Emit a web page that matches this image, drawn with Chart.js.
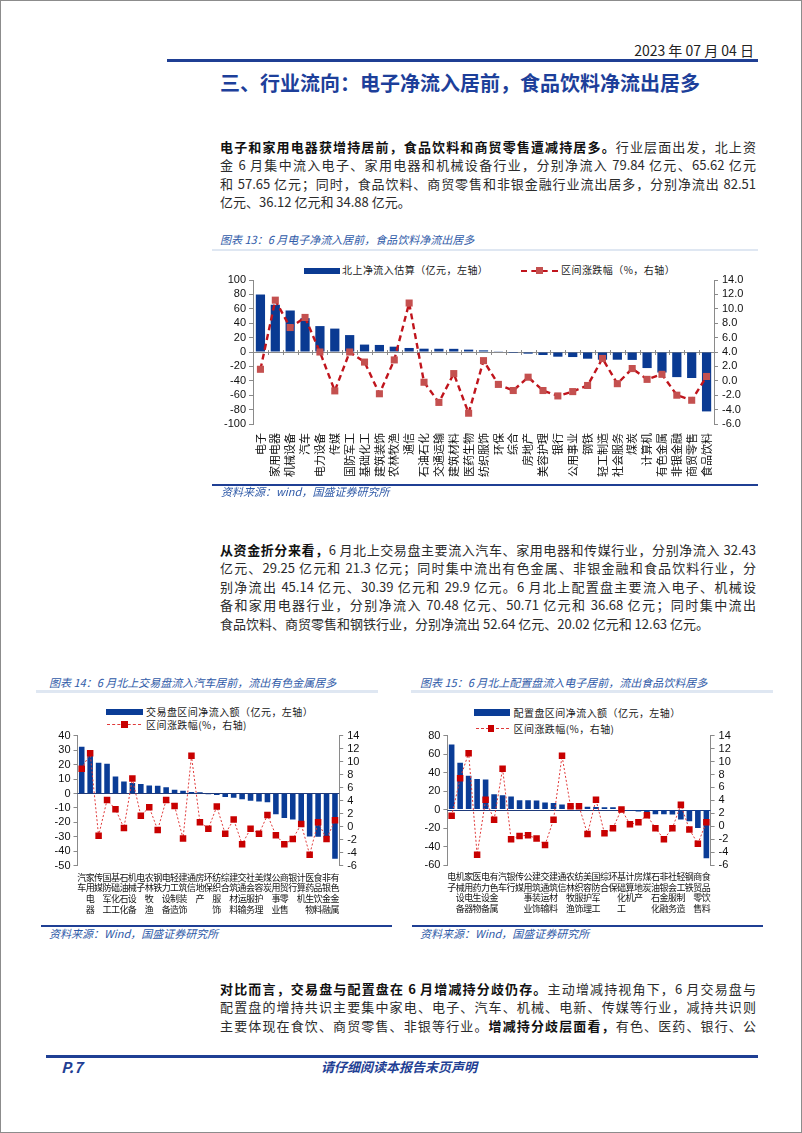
<!DOCTYPE html>
<html lang="zh-CN">
<head>
<meta charset="utf-8">
<script src="https://cdn.jsdelivr.net/npm/chart.js@4.4.0/dist/chart.umd.min.js"></script>
<style>
html, body { margin: 0; padding: 0; background: #fff; }
body { width: 802px; height: 1133px; position: relative; box-sizing: border-box; border: 1px solid #8c8c8c; overflow: hidden;
       font-family: "Noto Sans CJK SC", "Noto Sans", sans-serif; color: #2a2a2a; }
.abs { position: absolute; }
.para { position: absolute; left: 219px; width: 536px; font-size: 13px; line-height: 18.4px; color: #2b2b2b; }
.para div { text-align: justify; text-align-last: justify; }
.para div.last { text-align-last: left; }
.para b { color: #111; }
.rule { position: absolute; background: #1f3f94; }
.faint { position: absolute; background: #dfe7f2; }
.cap { position: absolute; font-size: 11px; line-height: 14px; font-style: italic; color: #2f5aa8; white-space: nowrap; }
.lg { position: absolute; font-size: 10px; line-height: 12px; color: #222; white-space: nowrap; letter-spacing: 0.45px; }
canvas { position: absolute; }
</style>
</head>
<body>

<div class="abs" style="right:47px;top:40px;font-size:14px;line-height:18px;color:#222;">2023 年 07 月 04 日</div>
<div class="rule" style="left:166px;top:58px;width:591px;height:2.5px;"></div>
<div class="abs" style="left:219px;top:69px;font-size:20px;line-height:25px;font-weight:700;color:#1d3f9a;">三、行业流向：电子净流入居前，食品饮料净流出居多</div>

<div class="para" style="top:137px;">
  <div><b>电子和家用电器获增持居前，食品饮料和商贸零售遭减持居多。</b>行业层面出发，北上资</div>
  <div>金 6 月集中流入电子、家用电器和机械设备行业，分别净流入 79.84 亿元、65.62 亿元</div>
  <div>和 57.65 亿元；同时，食品饮料、商贸零售和非银金融行业流出居多，分别净流出 82.51</div>
  <div class="last">亿元、36.12 亿元和 34.88 亿元。</div>
</div>

<div class="cap" style="left:219px;top:231px;">图表 13：6 月电子净流入居前，食品饮料净流出居多</div>
<div class="faint" style="left:211px;top:248px;width:546px;height:2px;"></div>

<div class="abs" style="left:303px;top:266.5px;width:35.5px;height:6px;background:#0a3a92;"></div>
<div class="lg" style="left:341px;top:263px;">北上净流入估算（亿元，左轴）</div>
<div class="abs" style="left:520px;top:268.5px;width:37px;border-top:2px dashed #c0141c;"></div>
<div class="abs" style="left:534.5px;top:265.5px;width:7px;height:7px;background:#c4504f;"></div>
<div class="lg" style="left:560px;top:263px;">区间涨跌幅（%，右轴）</div>
<canvas id="grafico_setor" width="542" height="228" style="left:215px;top:256px;"></canvas>

<div class="rule" style="left:211px;top:482.5px;width:546px;height:2px;"></div>
<div class="cap" style="left:220px;top:483px;">资料来源：wind，国盛证券研究所</div>

<div class="para" style="top:540px;">
  <div><b>从资金折分来看，</b>6 月北上交易盘主要流入汽车、家用电器和传媒行业，分别净流入 32.43</div>
  <div>亿元、29.25 亿元和 21.3 亿元；同时集中流出有色金属、非银金融和食品饮料行业，分</div>
  <div>别净流出 45.14 亿元、30.39 亿元和 29.9 亿元。6 月北上配置盘主要流入电子、机械设</div>
  <div>备和家用电器行业，分别净流入 70.48 亿元、50.71 亿元和 36.68 亿元；同时集中流出</div>
  <div class="last">食品饮料、商贸零售和钢铁行业，分别净流出 52.64 亿元、20.02 亿元和 12.63 亿元。</div>
</div>

<div class="cap" style="left:48px;top:674px;">图表 14：6 月北上交易盘流入汽车居前，流出有色金属居多</div>
<div class="cap" style="left:419px;top:674px;">图表 15：6 月北上配置盘流入电子居前，流出食品饮料居多</div>
<div class="faint" style="left:35px;top:689px;width:342px;height:2.5px;"></div>
<div class="faint" style="left:410px;top:689px;width:362px;height:2.5px;"></div>

<div class="abs" style="left:105px;top:707.5px;width:37px;height:6.5px;background:#0a3c96;"></div>
<div class="lg" style="left:145px;top:704.5px;">交易盘区间净流入额（亿元，左轴）</div>
<div class="abs" style="left:106px;top:723px;width:34px;border-top:1px dashed #e03a3a;"></div>
<div class="abs" style="left:120px;top:720.3px;width:6.5px;height:6.5px;background:#c80000;"></div>
<div class="lg" style="left:145px;top:717.5px;">区间涨跌幅(%，右轴)</div>
<canvas id="grafico_trade" width="375" height="222" style="left:20px;top:700px;"></canvas>

<div class="abs" style="left:473px;top:708px;width:36px;height:7px;background:#0a3c96;"></div>
<div class="lg" style="left:512.5px;top:705.5px;">配置盘区间净流入额（亿元，左轴）</div>
<div class="abs" style="left:475px;top:727px;width:33px;border-top:1px dashed #e03a3a;"></div>
<div class="abs" style="left:486.7px;top:724.3px;width:6.5px;height:6.5px;background:#c80000;"></div>
<div class="lg" style="left:512.5px;top:721.5px;">区间涨跌幅(%，右轴)</div>
<canvas id="grafico_alloc" width="360" height="222" style="left:412px;top:700px;"></canvas>

<div class="rule" style="left:40px;top:924px;width:351px;height:2px;"></div>
<div class="rule" style="left:411px;top:924px;width:351px;height:2px;"></div>
<div class="cap" style="left:48px;top:925px;">资料来源：Wind，国盛证券研究所</div>
<div class="cap" style="left:419px;top:925px;">资料来源：Wind，国盛证券研究所</div>

<div class="para" style="top:979px;">
  <div><b>对比而言，交易盘与配置盘在 6 月增减持分歧仍存。</b>主动增减持视角下，6 月交易盘与</div>
  <div>配置盘的增持共识主要集中家电、电子、汽车、机械、电新、传媒等行业，减持共识则</div>
  <div>主要体现在食饮、商贸零售、非银等行业。<b>增减持分歧层面看，</b>有色、医药、银行、公</div>
</div>

<div class="rule" style="left:45px;top:1054px;width:712px;height:3px;"></div>
<div class="abs" style="left:60px;top:1056px;font-size:15px;line-height:19px;font-weight:700;font-style:italic;color:#1f3f94;">P.7</div>
<div class="abs" style="left:320px;top:1057px;font-size:13px;line-height:18px;font-weight:700;font-style:italic;color:#1f3f94;">请仔细阅读本报告末页声明</div>

<script>
// 图表13 行业净流入（亿元）与区间涨跌幅（%）
const labelsSetor = ['电子', '家用电器', '机械设备', '汽车', '电力设备', '传媒', '国防军工', '基础化工', '建筑装饰', '农林牧渔',
    '通信', '石油石化', '交通运输', '建筑材料', '医药生物', '纺织服饰', '环保', '综合', '房地产', '美容护理',
    '银行', '公用事业', '钢铁', '轻工制造', '社会服务', '煤炭', '计算机', '有色金属', '非银金融', '商贸零售', '食品饮料'];
const fluxoSetor = [79.84, 65.62, 57.65, 47, 36, 32.5, 23.5, 10.3, 9.8, 7.4,
    5.6, 4.6, 4.5, 4.4, 3.3, 2.3, 1.0, -1.4, -2.3, -4.2,
    -6.5, -7.0, -9.3, -10.7, -10.7, -11, -22.3, -28.5, -34.88, -36.12, -82.51];
const varSetor = [1.6, 11.2, 7.4, 8.8, 4.0, -1.4, 4.0, 2.6, -1.8, 2.9,
    10.8, -0.2, -3.0, 1.0, -4.5, 2.8, -0.5, -1.35, 0.5, -1.35,
    -2.1, -1.5, -0.65, 3.1, -0.4, 1.7, 0.2, 0.9, -2.0, -2.7, 0.6];

// 图表14 交易盘
const labelsTrade = ['汽车', '家用电器', '传媒', '国防军工', '基础化工', '石油石化', '机械设备', '电子', '农林牧渔', '钢铁',
    '电力设备', '轻工制造', '建筑装饰', '通信', '房地产', '环保', '纺织服饰', '综合', '建筑材料', '交通运输',
    '社会服务', '美容护理', '煤炭', '公用事业', '商贸零售', '银行', '计算机', '医药生物', '食品饮料', '非银金融', '有色金属'];
const fluxoTrade = [32.43, 29.25, 21.3, 20.5, 11.8, 8.3, 7.3, 6.5, 5.5, 5.3,
    4.3, 2.5, 1.9, 1.0, 0.8, -0.6, -1.0, -2.5, -3.0, -4.0,
    -5.0, -5.5, -6.0, -14.3, -17, -18, -20.5, -29.7, -29.9, -30.39, -45.14];
const varTrade = [8.9, 11.3, -1.4, 4.1, 2.7, -0.2, 7.4, 1.7, 3.0, -0.5,
    4.1, 3.2, -1.8, 10.9, 0.7, -0.3, 3.1, -1.1, 1.1, -2.7,
    -0.3, -1.1, 1.8, -1.3, -2.7, -1.9, 0.4, -4.3, 0.7, -1.9, 1.0];

// 图表15 配置盘
const labelsAlloc = ['电子', '机械设备', '家用电器', '医药生物', '电力设备', '有色金属', '汽车', '银行', '传媒', '公用事业',
    '建筑装饰', '交通运输', '建筑材料', '通信', '农林牧渔', '纺织服饰', '美容护理', '国防军工', '综合', '环保',
    '基础化工', '计算机', '房地产', '煤炭', '石油石化', '非银金融', '社会服务', '轻工制造', '钢铁', '商贸零售', '食品饮料'];
const fluxoAlloc = [70.48, 50.71, 36.68, 33.2, 32.5, 16.6, 15.5, 14.1, 10.1, 10.0,
    9.8, 7.6, 7.2, 5.4, 3.8, 3.4, 3.0, 2.9, 2.6, 2.4,
    1.5, -1.3, -2.0, -4.6, -5.0, -5.0, -5.3, -10.8, -12.63, -20.02, -52.64];
const varAlloc = [1.6, 7.4, 11.3, -4.4, 4.1, 1.0, 8.9, -2.0, -1.5, -1.4,
    -1.9, -2.9, 1.0, 10.9, 3.1, 3.1, -1.2, 4.1, -1.1, -0.3,
    2.6, 0.3, 0.6, 1.7, -0.3, -2.0, -0.3, 3.3, -0.5, -2.7, 0.6];

// 零轴（类别轴画在 0 处）
const zeroAxis = {
    id: 'zeroAxis',
    beforeDatasetsDraw(chart, args, opts) {
        const { ctx, chartArea, scales } = chart;
        const y0 = Math.round(scales.y.getPixelForValue(0)) + 0.5;
        ctx.save();
        ctx.strokeStyle = opts.color;
        ctx.lineWidth = opts.width;
        ctx.beginPath();
        ctx.moveTo(chartArea.left, y0);
        ctx.lineTo(chartArea.right, y0);
        if (opts.ticks) {
            const n = chart.data.labels.length;
            const half = (scales.x.getPixelForValue(1) - scales.x.getPixelForValue(0)) / 2;
            for (let i = 0; i <= n; i++) {
                const px = Math.round(scales.x.getPixelForValue(i) - half) + 0.5;
                ctx.moveTo(px, y0 - 2.5);
                ctx.lineTo(px, y0 + 2.5);
            }
        }
        ctx.stroke();
        ctx.restore();
    }
};

const axisFont = { family: 'Liberation Sans, Arial, sans-serif', size: 11 };

function generateChartSetor() {
    const ctx = document.getElementById('grafico_setor').getContext('2d');
    new Chart(ctx, {
        type: 'bar',
        plugins: [zeroAxis],
        data: {
            labels: labelsSetor,
            datasets: [{
                type: 'line',
                label: '区间涨跌幅（%，右轴）',
                data: varSetor,
                yAxisID: 'y1',
                borderColor: '#c0141c',
                borderWidth: 2.4,
                borderDash: [6, 4],
                pointStyle: 'rect',
                pointRadius: 5,
                pointBackgroundColor: '#c4504f',
                pointBorderWidth: 0,
                tension: 0
            }, {
                label: '北上净流入估算（亿元，左轴）',
                data: fluxoSetor,
                yAxisID: 'y',
                backgroundColor: '#0a3a92',
                categoryPercentage: 1,
                barPercentage: 0.62
            }]
        },
        options: {
            responsive: false,
            animation: false,
            devicePixelRatio: 1,
            layout: { padding: { top: 23, left: 0, right: 0, bottom: 0 } },
            plugins: {
                legend: { display: false },
                tooltip: { enabled: false },
                zeroAxis: { color: '#8a8a8a', width: 1, ticks: true }
            },
            scales: {
                x: {
                    grid: { display: false, drawTicks: false },
                    border: { display: false },
                    ticks: { color: '#111', font: { family: 'Noto Sans CJK SC', size: 11 }, autoSkip: false,
                             minRotation: 90, maxRotation: 90, padding: 9 },
                    afterFit(s) { s.height = 61; }
                },
                y: {
                    position: 'left', min: -100, max: 100,
                    ticks: { stepSize: 20, autoSkip: false, color: '#111', font: axisFont, padding: 3 },
                    grid: { drawOnChartArea: false, tickLength: 4, color: '#8a8a8a' },
                    border: { color: '#8a8a8a' },
                    afterFit(s) { s.width = 37; }
                },
                y1: {
                    position: 'right', min: -6, max: 14,
                    ticks: { stepSize: 2, autoSkip: false, color: '#111', font: axisFont, padding: 4, callback: v => v.toFixed(1) },
                    grid: { drawOnChartArea: false, tickLength: 4, color: '#8a8a8a' },
                    border: { color: '#8a8a8a' },
                    afterFit(s) { s.width = 44; }
                }
            }
        }
    });
}

function generateChartSmall(id, labels, fluxo, variacao, leftMin, leftMax, leftStep, sizes) {
    const ctx = document.getElementById(id).getContext('2d');
    new Chart(ctx, {
        type: 'bar',
        plugins: [zeroAxis],
        data: {
            labels: labels.map(l => l.split('')),
            datasets: [{
                type: 'line',
                data: variacao,
                yAxisID: 'y1',
                borderColor: '#e03a3a',
                borderWidth: 1,
                borderDash: [2, 2],
                pointStyle: 'rect',
                pointRadius: 4.6,
                pointBackgroundColor: '#c80000',
                pointBorderWidth: 0,
                tension: 0
            }, {
                data: fluxo,
                yAxisID: 'y',
                backgroundColor: '#0a3c96',
                categoryPercentage: 1,
                barPercentage: 0.66
            }]
        },
        options: {
            responsive: false,
            animation: false,
            devicePixelRatio: 1,
            layout: { padding: { top: 34.7, left: 0, right: 0, bottom: 0 } },
            plugins: {
                legend: { display: false },
                tooltip: { enabled: false },
                zeroAxis: { color: '#1f3a7a', width: 1.2, ticks: false }
            },
            scales: {
                x: {
                    grid: { display: false, drawTicks: false },
                    border: { display: false },
                    ticks: { color: '#111', font: { family: 'Noto Sans CJK SC', size: 9, lineHeight: 1.2 },
                             autoSkip: false, minRotation: 0, maxRotation: 0, padding: 6 },
                    afterFit(s) { s.height = sizes.bottom; }
                },
                y: {
                    position: 'left', min: leftMin, max: leftMax,
                    ticks: { stepSize: leftStep, autoSkip: false, color: '#111', font: { family: 'Liberation Sans, Arial, sans-serif', size: 11 }, padding: 3 },
                    grid: { drawOnChartArea: false, tickLength: 4, color: '#8a8a8a' },
                    border: { color: '#8a8a8a' },
                    afterFit(s) { s.width = sizes.left; }
                },
                y1: {
                    position: 'right', min: -6, max: 14,
                    ticks: { stepSize: 2, autoSkip: false, color: '#111', font: { family: 'Liberation Sans, Arial, sans-serif', size: 11 }, padding: 4 },
                    grid: { drawOnChartArea: false, tickLength: 4, color: '#8a8a8a' },
                    border: { color: '#8a8a8a' },
                    afterFit(s) { s.width = sizes.right; }
                }
            }
        }
    });
}

generateChartSetor();
generateChartSmall('grafico_trade', labelsTrade, fluxoTrade, varTrade, -50, 40, 10, { left: 56.5, right: 56.8, bottom: 57.3 });
generateChartSmall('grafico_alloc', labelsAlloc, fluxoAlloc, varAlloc, -60, 80, 20, { left: 34.4, right: 62.4, bottom: 58 });
</script>
</body>
</html>
